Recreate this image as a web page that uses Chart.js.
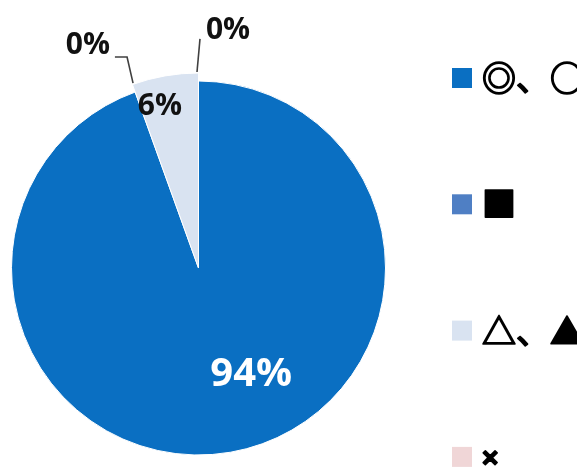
<!DOCTYPE html>
<html>
<head>
<meta charset="utf-8">
<script src="https://cdn.jsdelivr.net/npm/chart.js@4/dist/chart.umd.min.js"></script>
<style>
html,body{margin:0;padding:0;background:#fff;}
canvas{display:block;}
</style>
</head>
<body>
<canvas id="c" width="577" height="467"></canvas>
<script>
const categories = ['◎、○', '■', '△、▲', '×'];
const values = [94.5, 0, 5.5, 0];
const valueLabels = ['94%', '0%', '6%', '0%'];
const colors = ['#0A6FC2', '#4F7FC4', '#D9E3F1', '#F0D6D7'];

// label placement: angle (deg clockwise from top) and distance as fraction of radius
const labelPlace = [
  {ang: 153.7, dist: 0.636, color: '#ffffff', size: 40},
  {ang: 333.6, dist: 1.331, color: '#111111', size: 30, leader: [[-0.447, -1.128], [-0.382, -1.128], [-0.350, -0.989]]},
  {ang: 346.6, dist: 0.89, color: '#111111', size: 30},
  {ang: 7.07, dist: 1.282, color: '#111111', size: 30, leader: [[0.008, -1.225], [-0.008, -1.048]]}
];

const raiseSlice = {
  id: 'raiseSlice',
  afterDatasetsUpdate(chart) {
    const arc = chart.getDatasetMeta(0).data[2];
    if (arc) arc.outerRadius = arc.outerRadius + 8;
  }
};

const labelPlugin = {
  id: 'pieLabels',
  afterDatasetsDraw(chart) {
    const ctx = chart.ctx;
    const meta = chart.getDatasetMeta(0);
    const arc0 = meta.data[0];
    const cx = arc0.x, cy = arc0.y, r = arc0.outerRadius;
    ctx.save();
    labelPlace.forEach((p, i) => {
      if (p.leader) {
        ctx.beginPath();
        ctx.strokeStyle = '#404040';
        ctx.lineWidth = 1.6;
        p.leader.forEach((pt, k) => {
          const x = cx + pt[0] * r, y = cy + pt[1] * r;
          if (k === 0) ctx.moveTo(x, y); else ctx.lineTo(x, y);
        });
        ctx.stroke();
      }
      const a = p.ang * Math.PI / 180;
      const x = cx + Math.sin(a) * p.dist * r;
      const y = cy - Math.cos(a) * p.dist * r;
      ctx.font = 'bold ' + p.size + 'px "Open Sans", "Noto Sans", sans-serif';
      ctx.fillStyle = p.color;
      ctx.textAlign = 'center';
      ctx.textBaseline = 'middle';
      ctx.fillText(valueLabels[i], x, y);
    });
    ctx.restore();
  }
};

const legendPlugin = {
  id: 'sideLegend',
  afterDraw(chart) {
    const ctx = chart.ctx;
    const ds = chart.data.datasets[0];
    const x0 = 452, y0 = 78, step = 126.3, box = 20;
    ctx.save();
    chart.data.labels.forEach((lab, i) => {
      const y = y0 + i * step;
      ctx.fillStyle = ds.backgroundColor[i];
      ctx.fillRect(x0, y - box / 2, box, box);
      let ty = y;
      if (lab === '×') {
        ctx.font = 'bold 28px "Liberation Sans", "Noto Sans", sans-serif';
        ty = y + 2;
      } else {
        ctx.font = '34px "Noto Sans CJK JP", sans-serif';
      }
      ctx.fillStyle = '#000';
      ctx.strokeStyle = '#000';
      ctx.lineWidth = 1.6;
      ctx.lineJoin = 'round';
      ctx.textAlign = 'left';
      ctx.textBaseline = 'middle';
      ctx.fillText(lab, x0 + 30, ty);
      ctx.strokeText(lab, x0 + 30, ty);
    });
    ctx.restore();
  }
};

new Chart(document.getElementById('c'), {
  type: 'pie',
  data: {
    labels: categories,
    datasets: [{
      data: values,
      backgroundColor: colors,
      borderColor: '#ffffff',
      borderWidth: 1
    }]
  },
  options: {
    responsive: false,
    animation: false,
    radius: 187,
    layout: {padding: {left: 0, right: 180, top: 69, bottom: 0}},
    plugins: {legend: {display: false}, tooltip: {enabled: false}}
  },
  plugins: [raiseSlice, labelPlugin, legendPlugin]
});
</script>
</body>
</html>
